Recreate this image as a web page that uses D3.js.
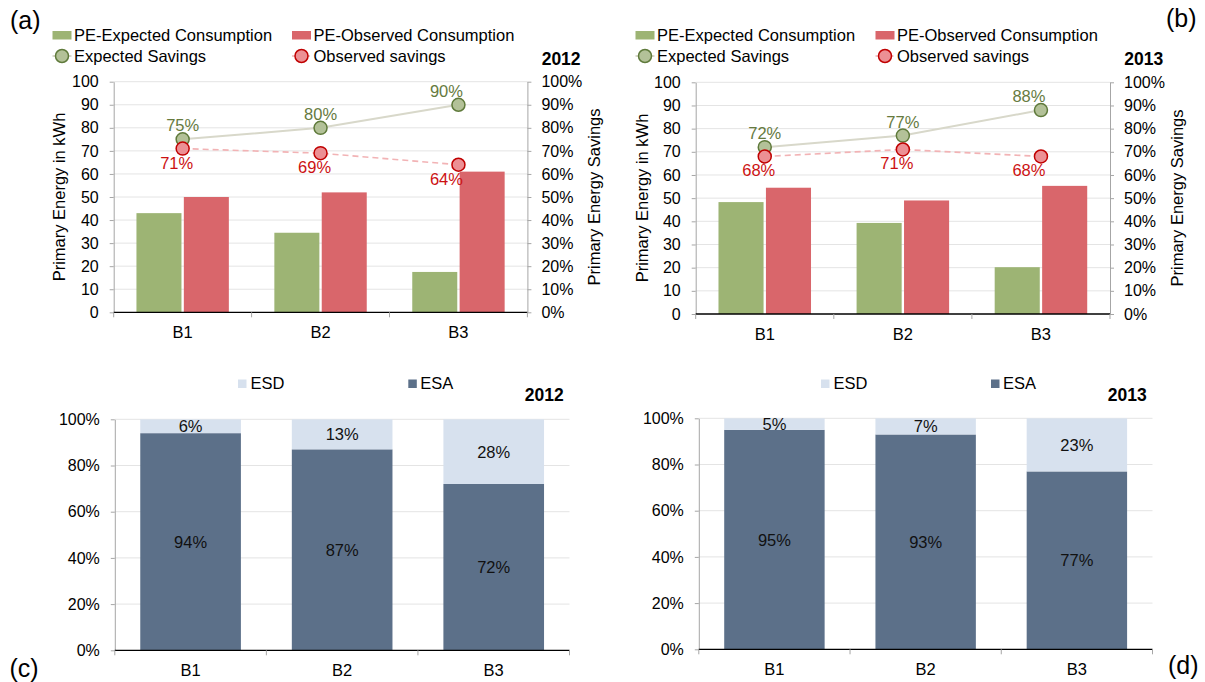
<!DOCTYPE html>
<html>
<head>
<meta charset="utf-8">
<script src="https://cdn.jsdelivr.net/npm/d3@7"></script>
<style>
  html, body { margin: 0; padding: 0; background: #fff; }
  svg { display: block; font-family: "Liberation Sans", Arial, sans-serif; }
</style>
</head>
<body>
<svg id="fig" width="1205" height="682"></svg>
<script>
// ---- data ----
const buildings = ["B1", "B2", "B3"];

// (a) 2012 primary energy [kWh] and savings [%]
const expected2012 = [43, 34.5, 17.5];
const observed2012 = [50, 52, 61];
const expSavings2012 = [75, 80, 90];
const obsSavings2012 = [71, 69, 64];

// (b) 2013
const expected2013 = [48.3, 39.3, 20.2];
const observed2013 = [54.5, 49, 55.3];
const expSavings2013 = [72, 77, 88];
const obsSavings2013 = [68, 71, 68];

// (c)/(d) share of savings: ESA achieved, ESD deviation [%]
const esa2012 = [94, 87, 72];
const esd2012 = [6, 13, 28];
const esa2013 = [95, 93, 77];
const esd2013 = [5, 7, 23];

// tick labels
const energyTicks = [0, 10, 20, 30, 40, 50, 60, 70, 80, 90, 100];
const savingsTicks = [0, 0.1, 0.2, 0.3, 0.4, 0.5, 0.6, 0.7, 0.8, 0.9, 1];
const shareTicks = [0, 0.2, 0.4, 0.6, 0.8, 1];

// ---- style ----
const C = {
  green: "#9DB474", red: "#D9666B",
  expLine: "#D8D8CA", expFill: "#B3C198", expStroke: "#5F7A3B", expText: "#667A3E",
  obsLine: "#F2B3B5", obsFill: "#EC9094", obsStroke: "#C00000", obsText: "#CC1111",
  esa: "#5C7089", esd: "#D7E1EE",
  grid: "#E4E4E4", axis: "#A6A6A6"
};
const FS = { tick: "16px", text: "16.5px", title: "16.5px", year: "17.5px", letter: "25px" };

const svg = d3.select("#fig");
svg.append("rect").attr("width", 1205).attr("height", 682).attr("fill", "#fff");

function styleAxis(sel) {
  sel.select(".domain").attr("stroke", C.axis);
  sel.selectAll(".tick line").attr("stroke", C.axis);
  sel.selectAll(".tick text").attr("fill", "#000").style("font-size", FS.tick);
}

function categoryAxis(g, x, left, right, y0) {
  g.append("line").attr("x1", left).attr("x2", right).attr("y1", y0).attr("y2", y0)
    .attr("stroke", "#000").attr("stroke-width", 1.3);
  const half = x.step() * x.paddingInner() / 2;
  const edges = buildings.map(b => x(b) - half).concat([right]);
  g.selectAll("line.ct").data(edges).join("line").attr("class", "ct")
    .attr("x1", d => d).attr("x2", d => d).attr("y1", y0).attr("y2", y0 + 5)
    .attr("stroke", C.axis);
  g.selectAll("text.cat").data(buildings).join("text").attr("class", "cat")
    .attr("x", d => x(d) + x.bandwidth() / 2).attr("y", y0 + 25.5)
    .attr("text-anchor", "middle").style("font-size", FS.text).text(d => d);
}

// Bar + line combo panel
function drawCombo(o) {
  const g = svg.append("g");
  const x0 = d3.scaleBand().domain(buildings).range([o.left, o.right])
    .paddingInner(0.33).paddingOuter(0.165);
  const x1 = d3.scaleBand().domain(["exp", "obs"]).range([0, x0.bandwidth()]).paddingInner(0.05);
  const y = d3.scaleLinear().domain([0, 100]).range([o.bottom, o.top]);
  const yr = d3.scaleLinear().domain([0, 1]).range([o.bottom, o.top]);

  g.selectAll("line.grid").data(energyTicks.slice(1)).join("line").attr("class", "grid")
    .attr("x1", o.left).attr("x2", o.right).attr("y1", d => y(d)).attr("y2", d => y(d))
    .attr("stroke", C.grid);

  const rows = buildings.map((b, i) => ({ b, exp: o.expected[i], obs: o.observed[i] }));
  g.selectAll("rect.e").data(rows).join("rect").attr("class", "e")
    .attr("x", d => x0(d.b) + x1("exp")).attr("width", x1.bandwidth())
    .attr("y", d => y(d.exp)).attr("height", d => y(0) - y(d.exp)).attr("fill", C.green);
  g.selectAll("rect.o").data(rows).join("rect").attr("class", "o")
    .attr("x", d => x0(d.b) + x1("obs")).attr("width", x1.bandwidth())
    .attr("y", d => y(d.obs)).attr("height", d => y(0) - y(d.obs)).attr("fill", C.red);

  g.append("g").attr("transform", `translate(${o.left},0)`)
    .call(d3.axisLeft(y).tickValues(energyTicks).tickSize(4).tickSizeOuter(0).tickPadding(11))
    .call(styleAxis);
  g.append("g").attr("transform", `translate(${o.right},0)`)
    .call(d3.axisRight(yr).tickValues(savingsTicks).tickFormat(d3.format(".0%"))
      .tickSize(4).tickSizeOuter(0).tickPadding(10))
    .call(styleAxis);
  categoryAxis(g, x0, o.left, o.right, y(0));

  const cx = b => x0(b) + x0.bandwidth() / 2;
  const line = d3.line().x(d => cx(d.b)).y(d => yr(d.v / 100));
  const expPts = buildings.map((b, i) => ({ b, v: o.expSav[i], i }));
  const obsPts = buildings.map((b, i) => ({ b, v: o.obsSav[i], i }));
  g.append("path").datum(expPts).attr("d", line).attr("fill", "none")
    .attr("stroke", C.expLine).attr("stroke-width", 2);
  g.append("path").datum(obsPts).attr("d", line).attr("fill", "none")
    .attr("stroke", C.obsLine).attr("stroke-width", 1.6).attr("stroke-dasharray", "6,4");

  const last = buildings.length - 1;
  g.selectAll("circle.ep").data(expPts).join("circle").attr("class", "ep")
    .attr("cx", d => cx(d.b)).attr("cy", d => yr(d.v / 100)).attr("r", 6.5)
    .attr("fill", C.expFill).attr("stroke", C.expStroke).attr("stroke-width", 1.5);
  g.selectAll("circle.op").data(obsPts).join("circle").attr("class", "op")
    .attr("cx", d => cx(d.b)).attr("cy", d => yr(d.v / 100)).attr("r", 6.5)
    .attr("fill", C.obsFill).attr("stroke", C.obsStroke).attr("stroke-width", 1.5);

  g.selectAll("text.el").data(expPts).join("text").attr("class", "el")
    .attr("x", d => cx(d.b) + (d.i === last ? -12 : 0)).attr("y", d => yr(d.v / 100) - 8)
    .attr("text-anchor", "middle").attr("fill", C.expText).style("font-size", FS.text)
    .text(d => d.v + "%");
  g.selectAll("text.ol").data(obsPts).join("text").attr("class", "ol")
    .attr("x", d => cx(d.b) + (d.i === last ? -12 : -6)).attr("y", d => yr(d.v / 100) + 20)
    .attr("text-anchor", "middle").attr("fill", C.obsText).style("font-size", FS.text)
    .text(d => d.v + "%");

  // axis titles
  g.append("text").attr("transform", `translate(${o.lt},${o.titleY}) rotate(-90)`)
    .attr("text-anchor", "middle").style("font-size", FS.title).text("Primary Energy in kWh");
  g.append("text").attr("transform", `translate(${o.rt},${o.titleY}) rotate(-90)`)
    .attr("text-anchor", "middle").style("font-size", FS.title).text("Primary Energy Savings");

  // legend
  const L = o.legend;
  g.append("rect").attr("x", L.x1).attr("y", 31).attr("width", 19).attr("height", 8.5).attr("fill", C.green);
  g.append("text").attr("x", L.x1 + 21.5).attr("y", 41).style("font-size", FS.text).text("PE-Expected Consumption");
  g.append("rect").attr("x", L.x2).attr("y", 31).attr("width", 19).attr("height", 8.5).attr("fill", C.red);
  g.append("text").attr("x", L.x2 + 21.5).attr("y", 41).style("font-size", FS.text).text("PE-Observed Consumption");

  g.append("line").attr("x1", L.x1).attr("x2", L.x1 + 19).attr("y1", 56).attr("y2", 56)
    .attr("stroke", C.expLine).attr("stroke-width", 2);
  g.append("circle").attr("cx", L.x1 + 9.5).attr("cy", 56).attr("r", 6.5)
    .attr("fill", C.expFill).attr("stroke", C.expStroke).attr("stroke-width", 1.5);
  g.append("text").attr("x", L.x1 + 21.5).attr("y", 62).style("font-size", FS.text).text("Expected Savings");
  g.append("line").attr("x1", L.x2).attr("x2", L.x2 + 19).attr("y1", 56).attr("y2", 56)
    .attr("stroke", C.obsLine).attr("stroke-width", 1.6).attr("stroke-dasharray", "4,3");
  g.append("circle").attr("cx", L.x2 + 9.5).attr("cy", 56).attr("r", 6.5)
    .attr("fill", C.obsFill).attr("stroke", C.obsStroke).attr("stroke-width", 1.5);
  g.append("text").attr("x", L.x2 + 21.5).attr("y", 62).style("font-size", FS.text).text("Observed savings");

  g.append("text").attr("x", o.yearX).attr("y", 65).attr("text-anchor", "end")
    .style("font-size", FS.year).style("font-weight", "bold").text(o.year);
}

// 100% stacked panel
function drawStack(o) {
  const g = svg.append("g");
  const x = d3.scaleBand().domain(buildings).range([o.left, o.right])
    .paddingInner(0.336).paddingOuter(0.168);
  const y = d3.scaleLinear().domain([0, 1]).range([o.bottom, o.top]);

  g.selectAll("line.grid").data(shareTicks.slice(1)).join("line").attr("class", "grid")
    .attr("x1", o.left).attr("x2", o.right).attr("y1", d => y(d)).attr("y2", d => y(d))
    .attr("stroke", C.grid);

  const rows = buildings.map((b, i) => ({ b, esa: o.esa[i] / 100, esd: o.esd[i] / 100 }));
  const stack = d3.stack().keys(["esa", "esd"])(rows);
  const fills = { esa: C.esa, esd: C.esd };
  stack.forEach(layer => {
    g.selectAll("rect." + layer.key).data(layer).join("rect").attr("class", layer.key)
      .attr("x", d => x(d.data.b)).attr("width", x.bandwidth())
      .attr("y", d => y(d[1])).attr("height", d => y(d[0]) - y(d[1]))
      .attr("fill", fills[layer.key]);
    g.selectAll("text.l" + layer.key).data(layer).join("text").attr("class", "l" + layer.key)
      .attr("x", d => x(d.data.b) + x.bandwidth() / 2)
      .attr("y", d => (y(d[0]) + y(d[1])) / 2 + 6)
      .attr("text-anchor", "middle").attr("fill", "#111").style("font-size", FS.text)
      .text(d => Math.round((d[1] - d[0]) * 100) + "%");
  });

  g.append("g").attr("transform", `translate(${o.left},0)`)
    .call(d3.axisLeft(y).tickValues(shareTicks).tickFormat(d3.format(".0%"))
      .tickSize(4).tickSizeOuter(0).tickPadding(11))
    .call(styleAxis);
  categoryAxis(g, x, o.left, o.right, y(0));

  const L = o.legend;
  g.append("rect").attr("x", L.x1).attr("y", 379.5).attr("width", 8.5).attr("height", 8.5).attr("fill", C.esd);
  g.append("text").attr("x", L.x1 + 12.5).attr("y", 389).style("font-size", FS.text).text("ESD");
  g.append("rect").attr("x", L.x2).attr("y", 379.5).attr("width", 8.5).attr("height", 8.5).attr("fill", C.esa);
  g.append("text").attr("x", L.x2 + 12).attr("y", 389).style("font-size", FS.text).text("ESA");

  g.append("text").attr("x", o.yearX).attr("y", 401).attr("text-anchor", "end")
    .style("font-size", FS.year).style("font-weight", "bold").text(o.year);
}

drawCombo({
  left: 113.7, right: 527.4, top: 81.7, bottom: 312.3,
  expected: expected2012, observed: observed2012, expSav: expSavings2012, obsSav: obsSavings2012,
  lt: 65, rt: 600, titleY: 197, legend: { x1: 52.5, x2: 292 }, yearX: 580.6, year: "2012"
});
drawCombo({
  left: 695.7, right: 1110, top: 82.3, bottom: 314,
  expected: expected2013, observed: observed2013, expSav: expSavings2013, obsSav: obsSavings2013,
  lt: 647.5, rt: 1182.5, titleY: 198, legend: { x1: 635.5, x2: 875.5 }, yearX: 1163.3, year: "2013"
});
drawStack({
  left: 114.8, right: 569.5, top: 419.3, bottom: 650.3,
  esa: esa2012, esd: esd2012, legend: { x1: 238, x2: 408.3 }, yearX: 563.7, year: "2012"
});
drawStack({
  left: 698.8, right: 1152.5, top: 418.3, bottom: 649.3,
  esa: esa2013, esd: esd2013, legend: { x1: 821, x2: 991 }, yearX: 1146.7, year: "2013"
});

// panel letters
const letters = [
  { t: "(a)", x: 10, y: 29 },
  { t: "(b)", x: 1166, y: 27 },
  { t: "(c)", x: 9.5, y: 677 },
  { t: "(d)", x: 1168, y: 674 }
];
svg.selectAll("text.letter").data(letters).join("text").attr("class", "letter")
  .attr("x", d => d.x).attr("y", d => d.y).style("font-size", FS.letter).text(d => d.t);
</script>
</body>
</html>
